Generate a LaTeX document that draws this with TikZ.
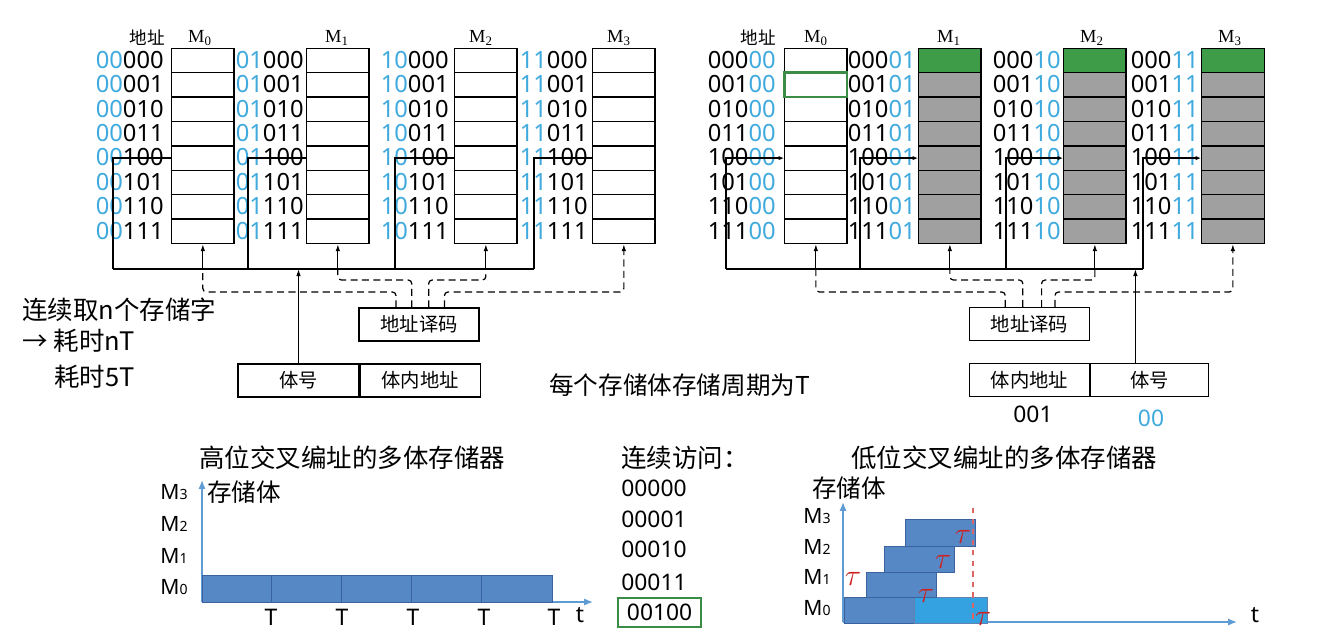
\documentclass[tikz,border=0pt]{standalone}
\usepackage{fontspec}
\setmainfont{Noto Sans}
\newfontfamily\cjk{Noto Sans CJK SC}
\newfontfamily\serifM{Liberation Serif}
\usetikzlibrary{arrows.meta,positioning,calc}

\definecolor{addrblue}{RGB}{64,170,222}
\definecolor{barblue}{RGB}{86,136,198}
\definecolor{barline}{RGB}{58,98,158}
\definecolor{barlight}{RGB}{52,162,224}
\definecolor{axisblue}{RGB}{96,156,212}
\definecolor{cellgreen}{RGB}{62,155,72}
\definecolor{cellgray}{RGB}{160,160,160}
\definecolor{boxgreen}{RGB}{58,140,70}
\definecolor{taured}{RGB}{205,35,35}

\tikzset{
  cell/.style={draw, line width=0.7pt, minimum width=1.25cm, minimum height=0.488cm, inner sep=0pt, anchor=north west},
  addr/.style={anchor=east, inner sep=0pt, font=\fontsize{13.5}{13.5}\selectfont},
  bankname/.style={inner sep=0pt, font=\serifM\fontsize{10.5}{11}\selectfont},
  hdr/.style={inner sep=0pt, font=\cjk\fontsize{10}{10}\selectfont},
  ctl/.style={draw, line width=0.7pt, inner sep=0pt, minimum width=2.4cm, minimum height=0.66cm, font=\cjk\fontsize{11}{11}\selectfont},
  bus/.style={line width=0.7pt},
  sel/.style={line width=0.7pt, dash pattern=on 4pt off 2.5pt, rounded corners=2pt},
  note/.style={anchor=west, inner sep=0pt, font=\cjk\fontsize{14.5}{15}\selectfont},
  code/.style={anchor=west, inner sep=0pt, font=\fontsize{13}{13}\selectfont},
  bk/.style={inner sep=0pt, font=\fontsize{12}{12}\selectfont},
  bar/.style={draw=barline, fill=barblue, line width=0.5pt},
  taxis/.style={draw=axisblue, line width=0.8pt, -{Latex[length=5pt,width=4pt]}},
  tlab/.style={inner sep=0pt, font=\fontsize{13}{13}\selectfont},
  tau/.style={inner sep=0pt, text=taured, font=\fontsize{18}{18}\selectfont},
  >={Latex[length=4pt,width=2.6pt]}
}

\begin{document}
\begin{tikzpicture}[x=0.02cm, y=-0.02cm]
\useasboundingbox (0,0) rectangle (1329,632);
\fill[white] (0,0) rectangle (1329,632);

% ---- high-order interleaving ----
\node[hdr] (laddr) at (147,38) {地址};
\foreach \b/\bx/\lx/\mx [count=\k from 0] in {00/171/164/200,01/306/304/337,10/454/449/481,11/592/588/619} {
  \node[bankname] (lm\k) at (\mx,38) {M\textsubscript{\k}};
  \foreach \lo [count=\i from 0] in {000,001,010,011,100,101,110,111} {
    \node[cell] (l\k-\i) at (\bx,{47.7+24.4*\i}) {};
    \node[addr] (la\k-\i) at (\lx,{59.9+24.4*\i}) {\textcolor{addrblue}{\b}\lo};
  }
}
\foreach \k/\vx in {0/113,1/248,2/395,3/534} {
  \coordinate (lv\k) at (\vx,269);
  \draw[bus] (lv\k) |- (l\k-4.west);
}
\draw[bus] (lv0) -- (lv3);

\node[ctl] (ldec) at (419,324.5) {地址译码};
\node[ctl, minimum width=2.42cm] (lbank) at (298.5,380.5) {体号};
\node[ctl, right=0pt of lbank] (loff) {体内地址};
\draw[bus,->] (lbank.north) -- (lbank.north |- lv0);

\foreach \k/\p/\h in {0/0.31/292,1/0.44/280,2/0.58/280} {
  \coordinate (lt\k) at ($(ldec.north west)!\p!(ldec.north east)$);
  \coordinate (lk\k) at (l\k-7.south |- lv0);
  \draw[sel] (lt\k) -- (lt\k |- 0,\h) -| (lk\k);
  \draw[bus,->] (lk\k) -- (l\k-7.south);
}
\coordinate (lt3) at ($(ldec.north west)!0.71!(ldec.north east)$);
\draw[sel,->] (lt3) -- (lt3 |- 0,292) -| (l3-7.south);

% ---- low-order interleaving ----
\node[hdr] (raddr) at (758,38) {地址};
\foreach \b/\bx/\lx/\mx [count=\k from 0] in {00/784/776/816,01/918/916/949,10/1063/1061/1092,11/1201/1199/1230} {
  \node[bankname] (rm\k) at (\mx,38) {M\textsubscript{\k}};
  \foreach \lo [count=\i from 0] in {000,001,010,011,100,101,110,111} {
    \ifnum\k=0 \def\cf{white}\else\ifnum\i=0 \def\cf{cellgreen}\else\def\cf{cellgray}\fi\fi
    \node[cell, fill=\cf] (r\k-\i) at (\bx,{47.7+24.4*\i}) {};
    \node[addr] (ra\k-\i) at (\lx,{59.9+24.4*\i}) {\lo\textcolor{addrblue}{\b}};
  }
}
\node[cell, draw=boxgreen, line width=1.5pt, anchor=center] (hit) at (r0-1) {};
\foreach \k/\vx in {0/726,1/860,2/1006,3/1143} {
  \coordinate (rv\k) at (\vx,269);
  \draw[bus,-{Latex[length=3pt,width=2.4pt]}] (rv\k) |- (r\k-4.west);
}
\draw[bus] (rv0) -- (rv3);

\node[ctl] (rdec) at (1029.5,324) {地址译码};
\node[ctl] (roff) at (1029.5,380) {体内地址};
\node[ctl, minimum width=2.36cm, right=0pt of roff] (rbank) {体号};
\coordinate (rin) at ($(rbank.north west)!0.38!(rbank.north east)$);
\draw[bus,->] (rin) -- (rin |- rv0);

\foreach \k/\p/\h in {0/0.30/292,1/0.445/280,2/0.60/280} {
  \coordinate (rt\k) at ($(rdec.north west)!\p!(rdec.north east)$);
  \coordinate (rk\k) at (r\k-7.south |- rv0);
  \draw[sel] (rt\k) -- (rt\k |- 0,\h) -| (rk\k);
  \draw[bus,->] (rk\k) -- (r\k-7.south);
}
\coordinate (rt3) at ($(rdec.north west)!0.71!(rdec.north east)$);
\draw[sel,->] (rt3) -- (rt3 |- 0,292) -| (r3-7.south);

\node[code, anchor=center] (vin) at (1033,414) {001};
\node[code, anchor=center, text=addrblue] (vbank) at (1151,418) {00};

% ---- notes ----
\node[note] (q1) at (22,310) {连续取n个存储字};
\node[note] (q2) at (22,341) {→ 耗时nT};
\node[note] (q3) at (54,377) {耗时5T};
\node[note, font=\cjk\fontsize{14}{14}\selectfont] (cyc) at (549,385) {每个存储体存储周期为T};

% ---- timing, high-order ----
\node[note] (htitle) at (199,458) {高位交叉编址的多体存储器};
\coordinate (ho) at (202,602);
\draw[taxis] (ho) -- (202,480);
\draw[taxis] (ho) -- (593,602);
\node[note, font=\cjk\fontsize{14}{14}\selectfont] (hs) at (207,492) {存储体};
\foreach \m/\y in {3/492,2/524,1/556,0/587}
  \node[bk] (hm\m) at (174,\y) {M{\fontsize{8}{8}\selectfont\m}};
\foreach \a/\c in {202/271,271/341,341/411,411/481,481/552}
  \draw[bar] (\a,575) rectangle (\c,602);
\foreach \x [count=\j] in {271,342,413,484,554}
  \node[tlab] (hT\j) at (\x,617) {T};
\node[tlab] (ht) at (580,615) {t};

% ---- access sequence ----
\node[note] (seq) at (621,458) {连续访问：};
\foreach \s/\y [count=\j] in {00000/488,00001/519,00010/549,00011/582}
  \node[code] (s\j) at (621,\y) {\s};
\node[code, draw=boxgreen, line width=1.3pt, inner xsep=3pt, minimum width=1.66cm, minimum height=0.58cm] (s5) at (617,612.5) {00100};

% ---- timing, low-order ----
\node[note] (ltitle) at (851,458) {低位交叉编址的多体存储器};
\node[note, font=\cjk\fontsize{14}{14}\selectfont] (ls) at (812,488) {存储体};
\coordinate (lo) at (843,622);
\draw[taxis] (lo) -- (843,502);
\draw[taxis] (lo) -- (1237,622);
\foreach \m/\y in {3/516,2/547,1/577,0/608}
  \node[bk] (lm\m x) at (817,\y) {M{\fontsize{8}{8}\selectfont\m}};
\draw[bar] (844,597) rectangle (914,623);
\draw[bar, draw=barline!80, fill=barlight] (914,597) rectangle (987,623);
\draw[bar] (866,572) rectangle (936,597);
\draw[bar] (884,546) rectangle (954,572);
\draw[bar] (905,519) rectangle (975,546);
\draw[taured!70, dashed, line width=0.6pt] (973,508) -- (973,623);
\foreach \x/\y [count=\j] in {853/579,926/596,943/562,963/537,983/619}
  \node[tau] (tau\j) at (\x,\y) {$\tau$};
\node[tlab] (lt) at (1255,615) {t};
\end{tikzpicture}
\end{document}
